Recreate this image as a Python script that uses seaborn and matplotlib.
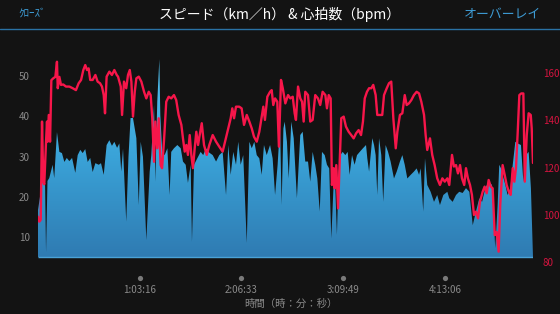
import numpy as np
import pandas as pd
import matplotlib
matplotlib.use("Agg")
import matplotlib.pyplot as plt
from matplotlib.lines import Line2D
from matplotlib.colors import LinearSegmentedColormap
import matplotlib.transforms as mtransforms
import seaborn as sns

# ---------------- data ----------------
# elapsed time (minutes) and speed (km/h)
speed_t = [0, 1.6, 2.9, 4.4, 5.0, 5.9, 7.0, 9.1, 10.1, 11.8, 13.3, 14.9, 16.4, 17.9, 19.5, 21.2,
           23.2, 24.7, 26.3, 27.8, 29.4, 30.9, 32.5, 34.0, 35.7, 37.8, 39.2, 40.9, 42.7, 44.4,
           46.0, 47.5, 49.2, 50.6, 51.8, 52.9, 54.9, 56.3, 57.6, 59.1, 61.2, 62.7, 63.9, 65.3,
           67.4, 69.5, 70.5, 72.2, 73.0, 74.2, 75.5, 76.1, 77.3, 78.8, 80.5, 81.9, 82.9, 84.6,
           86.7, 88.8, 90.2, 91.9, 93.3, 95.0, 95.8, 97.1, 99.1, 101.2, 102.8, 104.5, 106.6,
           108.7, 110.8, 112.8, 114.9, 117.0, 118.4, 119.9, 121.5, 123.2, 124.6, 126.1, 127.7,
           129.9, 131.5, 133.0, 134.6, 136.1, 137.7, 139.2, 140.6, 142.3, 144.4, 146.0, 147.5,
           149.1, 150.6, 151.6, 152.7, 153.5, 154.9, 156.0, 157.6, 159.1, 161.1, 163.2, 164.7,
           166.3, 168.0, 169.4, 170.9, 172.5, 173.8, 175.3, 176.7, 178.4, 179.8, 181.2, 182.5,
           184.0, 185.0, 186.0, 187.1, 188.1, 189.6, 191.2, 192.7, 193.9, 195.4, 197.0, 198.5,
           200.2, 202.2, 204.1, 204.9, 206.0, 208.0, 209.1, 210.1, 211.1, 212.2, 213.6, 214.8,
           216.3, 217.8, 219.4, 221.5, 223.2, 225.2, 226.7, 228.2, 229.8, 231.9, 233.9, 235.6,
           237.1, 238.1, 239.7, 240.8, 242.2, 244.3, 246.4, 248.4, 250.1, 252.2, 254.7, 255.9,
           258.0, 260.1, 262.1, 264.2, 266.3, 268.4, 270.5, 272.5, 274.6, 276.3, 278.3, 280.4,
           282.5, 284.5, 286.0, 287.0, 288.1, 289.1, 290.8, 292.2, 293.9, 295.4, 297.0, 298.5,
           300.5, 302.0, 303.6, 305.3, 306.7, 308.0]
speed_v = [16.8, 21, 24.7, 23, 6.3, 24, 24.7, 28, 24.7, 36.1, 31.2, 30.9, 28.7, 29.7, 28.9, 29.7,
           26, 30.4, 31.7, 30.9, 31.9, 28.7, 29.7, 26.2, 28.4, 28, 28.4, 25.5, 32.9, 34.1,
           32.7, 33.7, 32.2, 33.3, 26.3, 32, 13.9, 30, 39.6, 39.6, 34.6, 18, 33.7, 30,
           9.3, 26.3, 30.4, 42.8, 23.8, 43.6, 54.2, 40.3, 31.2, 30.4, 32.1, 20.5, 31.2, 32.1,
           32.9, 32.1, 28.8, 28, 23.5, 28, 8.9, 28, 29.6, 31.2, 30.4, 32.1, 31,
           30.4, 28.8, 30.4, 31.2, 20.5, 32.9, 25.5, 31.2, 28, 33.7, 28, 30.4,
           8.6, 33.7, 32.1, 33.7, 30.4, 29.6, 25.5, 32.9, 30.4, 32.9, 29.6, 20.5,
           28, 37.9, 18, 37, 38.7, 33.7, 24.6, 38.7, 34.6, 19.7, 35.4, 36.2,
           28.8, 28.8, 23.8, 31.2, 28, 24.6, 16.4, 31.2, 30.4, 28, 27.1, 9.7,
           23.8, 22.2, 10.6, 26.3, 30.4, 31.2, 30.4, 31.2, 25.5, 30.4, 28, 30.4,
           31.2, 32.1, 32.9, 29.6, 26.3, 34.6, 32.9, 30.4, 20.5, 34.6, 30.4, 18.8,
           32.9, 31.2, 28.8, 24.6, 26.3, 28.8, 30.4, 28, 24.6, 25.5, 26.3, 27.1,
           25.5, 27.1, 16.4, 29.6, 23, 21.3, 18.8, 20.5, 18, 20.5, 21.3, 19.7,
           18.8, 20.5, 21.3, 21, 22.2, 21.3, 13, 16.4, 19.7, 18.8, 22.2, 23.8,
           23, 7.3, 18, 28, 27.1, 25.5, 23, 20.5, 22.2, 28, 33.7, 33.3,
           32.9, 23.8, 30.4, 31.2, 22.2, 5.1]

# elapsed time (minutes) and heart rate (bpm)
hr_t = [0, 0.8, 1.7, 2.5, 3.3, 3.9, 5.0, 5.6, 6.0, 6.7, 7.5, 8.3, 9.5, 10.8, 11.8, 12.3, 13.3,
        14.3, 15.7, 17.4, 19.5, 21.6, 23.6, 25.3, 26.8, 28.2, 29.4, 30.5, 31.5, 32.5, 34.0,
        35.7, 37.1, 38.6, 39.8, 40.9, 41.7, 42.7, 44.4, 46.0, 47.5, 49.0, 49.8, 51.5, 52.3,
        53.5, 54.9, 56.0, 57.1, 58.1, 59.1, 60.2, 61.2, 62.7, 64.3, 66.0, 67.4, 68.9, 70.1,
        71.1, 72.2, 73.0, 74.2, 75.1, 76.3, 77.2, 78.4, 79.8, 81.3, 82.9, 84.6, 86.0, 87.5,
        89.2, 90.2, 91.3, 92.3, 93.3, 94.4, 95.4, 96.4, 97.5, 98.5, 99.6, 100.6, 101.9, 103.3,
        105.0, 106.6, 108.7, 110.8, 112.8, 114.9, 116.4, 118.4, 119.9, 120.9, 122.0, 123.2,
        125.2, 126.7, 128.2, 129.9, 131.5, 133.0, 134.4, 136.1, 137.7, 139.2, 140.2, 141.2,
        142.7, 144.4, 145.4, 146.4, 147.5, 148.9, 149.9, 151.2, 152.3, 153.9, 155.6, 157.0,
        158.5, 159.7, 160.5, 161.8, 163.2, 164.3, 165.3, 166.3, 168.0, 169.4, 170.9, 172.5,
        174.2, 175.6, 177.1, 178.8, 179.8, 180.9, 182.1, 182.9, 184.0, 184.6, 185.6, 186.7,
        187.5, 188.7, 190.2, 191.6, 193.3, 194.9, 196.4, 197.9, 199.5, 201.0, 202.2, 203.3,
        204.7, 206.0, 207.4, 208.6, 210.1, 211.1, 212.8, 214.2, 215.3, 217.0, 218.4, 219.8,
        221.1, 222.6, 223.6, 225.2, 226.7, 228.2, 229.4, 230.8, 232.3, 233.9, 235.6, 237.1,
        238.5, 240.2, 241.2, 242.2, 243.9, 245.3, 246.8, 248.4, 250.1, 251.6, 253.1, 254.7,
        255.9, 257.6, 258.8, 260.1, 261.3, 262.6, 263.8, 265.2, 266.3, 267.5, 268.8, 270.0,
        271.3, 272.5, 273.8, 275.0, 276.7, 277.9, 279.2, 280.4, 281.7, 282.9, 284.2, 285.4,
        286.6, 287.6, 289.1, 290.4, 291.6, 292.9, 294.1, 295.4, 296.4, 297.4, 298.5, 299.5,
        300.7, 302.0, 302.9, 304.1, 305.3, 306.6, 307.2, 308.0]
hr_v = [99.3, 97.2, 98, 139.5, 114, 113, 131, 139.5, 131, 142.3, 131, 157, 157.8, 158.4, 164.8, 153.6, 158.4,
        155, 155.2, 154.3, 154.3, 153.6, 152.8, 155.7, 157.1, 161.3, 163.4, 161.3, 162, 157.1, 157.1,
        159.2, 156.4, 155.7, 154.3, 150.7, 143, 158.5, 160.6, 159.2, 161.3, 159.2, 158.5, 154.3, 142.3,
        156.4, 153.6, 159.2, 161.3, 156.4, 141.6, 152.1, 157.8, 158.5, 156.4, 152.1, 149.3, 152.1, 150.7,
        140.9, 122.5, 139.5, 128.2, 140.9, 121.1, 119.8, 131.4, 147.9, 150, 149.3, 150.7, 148.6, 142.3,
        138.1, 132.4, 126.8, 129.6, 125.4, 133.8, 125.4, 119.8, 128.2, 135.2, 129.6, 133.8, 138.8, 129.6,
        125.4, 129.6, 133.8, 131, 128.9, 126.8, 131, 136.6, 140.9, 145.1, 140.9, 145.8,
        145.8, 145.1, 138.1, 142.3, 139.5, 136.6, 133.1, 131, 135.2, 141.6, 145.8, 140.2,
        150, 152.1, 152.8, 146.5, 149.3, 147.9, 128.9, 157.1, 153.6, 147.2, 150.7, 149.3,
        150, 143, 140.2, 154.3, 149.3, 147.9, 139.5, 152.1, 150.7, 139.5, 140.2, 150.7,
        149.3, 146.5, 152.1, 150.7, 145.1, 150.7, 149.3, 112.7, 119.8, 111.3, 121.1, 102.8,
        118.4, 140.9, 141.6, 137.4, 135.2, 133.8, 132.4, 134.5, 135.9, 133.8, 139.5, 149.3,
        152.1, 153.6, 153.6, 155, 150.7, 142.3, 142.3, 142.3, 150.7, 153.6, 155.7, 156.4,
        140.9, 128.2, 135.2, 142.3, 143, 150.7, 146.5, 147.2, 148.6, 150.7, 152.1, 151.4,
        147.9, 142.3, 133.8, 127.5, 132.4, 125.4, 121.1, 115.5, 112.7, 115.5, 114.1, 115.5,
        112.7, 125.4, 120.5, 121.1, 117.6, 121.1, 115.5, 112.7, 119.8, 115.5, 112.7, 108.5,
        100, 101.4, 98.6, 105.6, 109.9, 112, 109.2, 114.8, 112, 111.3, 91.5, 92.9,
        84.5, 104.2, 121.1, 116.9, 112.7, 109.9, 108.5, 119.8, 114.1, 119.8, 135.2, 150.7,
        151.4, 151.4, 114.1, 133.8, 143, 142.3, 136.6, 122]

x_tick_min = [63.267, 126.55, 189.817, 253.1]
x_tick_labels = ["1:03:16", "2:06:33", "3:09:49", "4:13:06"]
speed_ticks = [10, 20, 30, 40, 50]
hr_ticks = [80, 100, 120, 140, 160]

title = "スピード（km／h） & 心拍数（bpm）"
left_btn = "ｸﾛｰｽﾞ"
right_btn = "オーバーレイ"
x_label = "時間（時：分：秒）"

# ---------------- style ----------------
sns.set_theme(style="dark")
plt.rcParams['font.family'] = ['Noto Sans CJK JP', 'DejaVu Sans']

BG = "#131313"
BLUE_TXT = "#3d9ad2"
RED = "#f7164a"
GRAY = "#8a8a8a"

fig = plt.figure(figsize=(5.6, 3.14), dpi=100, facecolor=BG)
W, H = 560, 314
ax_l, ax_r, ax_t, ax_b = 38, 533, 55, 262.3
ax = fig.add_axes([ax_l / W, 1 - ax_b / H, (ax_r - ax_l) / W, (ax_b - ax_t) / H])
ax.set_facecolor("none")
for s in ax.spines.values():
    s.set_visible(False)

xmax = 308.0
base = 5.1
ax.set_xlim(0, xmax)
ax.set_ylim(3.80, 55.24)

# speed area with vertical gradient
df_speed = pd.DataFrame({"t": speed_t, "v": speed_v})
coll = ax.fill_between(df_speed["t"], df_speed["v"], base, facecolor="none", edgecolor="none")
grad = np.linspace(0, 1, 256).reshape(-1, 1)
cmap = LinearSegmentedColormap.from_list("g", ["#53c3f0", "#3aa3d8", "#2f7bb2"])
img = ax.imshow(grad, aspect="auto", cmap=cmap, extent=[0, xmax, base, 55.24],
                origin="upper", zorder=1, interpolation="bilinear")
img.set_clip_path(coll.get_paths()[0], ax.transData)
ax.plot([0, xmax], [base, base], color="#4aa2d6", lw=1.0, zorder=2, solid_capstyle="butt")

# heart rate line on twin axis
ax2 = ax.twinx()
ax2.set_facecolor("none")
for s in ax2.spines.values():
    s.set_visible(False)
df_hr = pd.DataFrame({"t": hr_t, "hr": hr_v})
sns.lineplot(data=df_hr, x="t", y="hr", ax=ax2, color=RED, lw=1.7, zorder=3)
ax2.set_ylim(80, 167.65)
ax2.set_xlim(0, xmax)
ax2.set_ylabel("")
ax2.set_xlabel("")

# ticks
ax.set_yticks(speed_ticks)
ax.set_yticklabels([str(v) for v in speed_ticks])
ax.tick_params(axis="y", colors=GRAY, labelsize=7, length=0, pad=6)
ax2.set_yticks(hr_ticks)
ax2.set_yticklabels([str(v) for v in hr_ticks])
ax2.tick_params(axis="y", colors="#d4143f", labelsize=7, length=0, pad=7)
ax2.grid(False)
ax.grid(False)

ax.set_xticks(x_tick_min)
ax.set_xticklabels(x_tick_labels)
ax.tick_params(axis="x", colors=GRAY, labelsize=7, length=0, pad=16.5)
ax2.tick_params(axis="x", length=0, labelbottom=False)

trans = mtransforms.blended_transform_factory(ax.transData, ax.transAxes)
ax.scatter(x_tick_min, [(ax_b - 277.5) / (ax_b - ax_t)] * len(x_tick_min), s=14,
           color="#7a7a7a", transform=trans, clip_on=False, zorder=5, linewidths=0)

ax.set_xlabel("")
fig.text(291 / W, 1 - 304 / H, x_label, color=GRAY, fontsize=7.5, ha="center", va="center")

# header
fig.text(280 / W, 1 - 14 / H, title, color="white", fontsize=10, ha="center", va="center")
fig.text(18 / W, 1 - 14 / H, left_btn, color=BLUE_TXT, fontsize=8, ha="left", va="center")
fig.text(541 / W, 1 - 14 / H, right_btn, color=BLUE_TXT, fontsize=9.3, ha="right", va="center")
fig.add_artist(Line2D([0, 1], [1 - 28.5 / H, 1 - 28.5 / H], color="#2a72a5", lw=1.0,
                      transform=fig.transFigure))

fig.savefig("out.png", dpi=100, facecolor=BG)
